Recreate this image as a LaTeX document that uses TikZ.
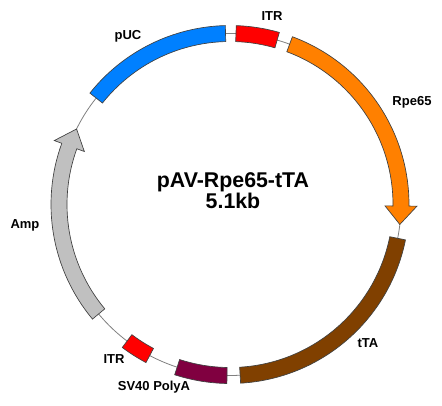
\documentclass[tikz,border=0pt]{standalone}
\usepackage{fontspec}
\setmainfont{Liberation Sans}
\definecolor{pucblue}{RGB}{0,128,255}
\definecolor{itrred}{RGB}{255,0,0}
\definecolor{rpeorange}{RGB}{255,128,0}
\definecolor{ttabrown}{RGB}{128,64,0}
\definecolor{polyapurple}{RGB}{128,0,64}
\definecolor{ampgray}{RGB}{192,192,192}
\tikzset{feat/.style={draw=black!75,line width=.5pt},
 lbl/.style={font=\bfseries\fontsize{9.75}{11}\selectfont}}
\newcommand{\featbox}[3]{\draw[feat,fill=#1] (#2:179)
 arc[start angle=#2,end angle=#3,radius=179] -- (#3:163)
 arc[start angle=#3,end angle=#2,radius=163] -- cycle;}
\newcommand{\featarrow}[4]{\draw[feat,fill=#1] (#2:179)
 arc[start angle=#2,end angle=#3,radius=179] -- (#3:187) -- (#4:171)
 -- (#3:155) -- (#3:163)
 arc[start angle=#3,end angle=#2,radius=163] -- cycle;}
\begin{document}
\begin{tikzpicture}[x=.75pt,y=.75pt]
\useasboundingbox (-230,-200.5) rectangle (212,204.5);
\draw[gray,line width=.6pt] (0,0) circle (171);

\featbox{pucblue}{141.5}{91.5}
\featbox{itrred}{88}{74}
\featarrow{rpeorange}{69.6}{-0.5}{-6.7}
\featbox{ttabrown}{-11.4}{-86.6}
\featbox{polyapurple}{269}{252}
\featbox{itrred}{242}{233}
\featarrow{ampgray}{219.8}{160}{153.8}

\node[lbl] (itrtop) at (42,188.5) {ITR};
\node[lbl] (puc) at (-102,168.5) {pUC};
\node[lbl] (rpe) at (182,102.5) {Rpe65};
\node[lbl] (tta) at (138,-138.5) {tTA};
\node[lbl] (polya) at (-76,-182.5) {SV40 PolyA};
\node[lbl] (itrbot) at (-116,-154.5) {ITR};
\node[lbl] (amp) at (-205,-20.5) {Amp};
\node[font=\bfseries\fontsize{16}{15.75}\selectfont,align=center] (title)
 at (3,14) {pAV-Rpe65-tTA\\5.1kb};
\end{tikzpicture}
\end{document}
